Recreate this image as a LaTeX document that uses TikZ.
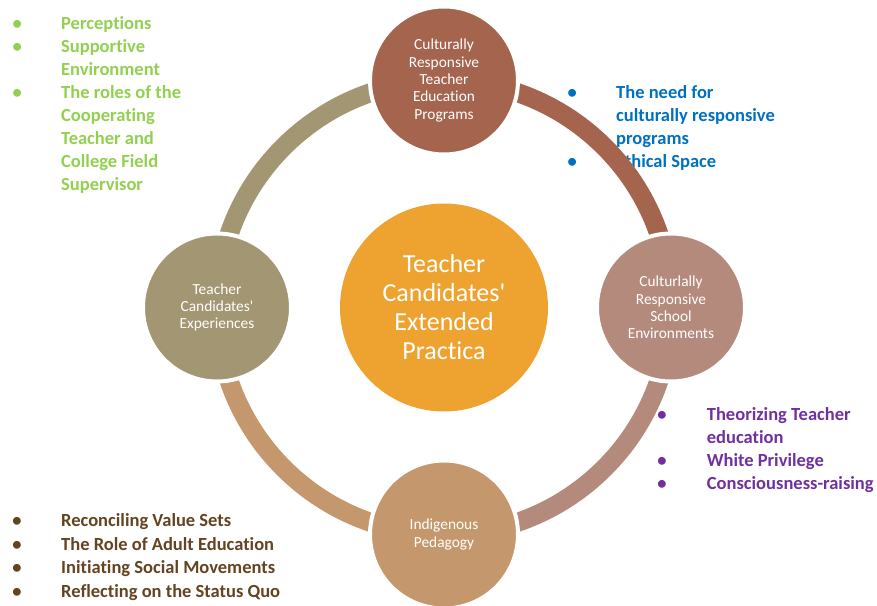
\documentclass[tikz,border=0pt]{standalone}
\usepackage{fontspec}
\setmainfont{Carlito}[Ligatures=NoCommon]

\definecolor{progc}{RGB}{165,100,78}
\definecolor{schoolc}{RGB}{180,138,125}
\definecolor{pedc}{RGB}{196,152,108}
\definecolor{expc}{RGB}{163,150,115}
\definecolor{hubc}{RGB}{238,163,49}
\definecolor{greentxt}{RGB}{146,208,80}
\definecolor{bluetxt}{RGB}{0,112,192}
\definecolor{purpletxt}{RGB}{112,48,160}
\definecolor{browntxt}{RGB}{99,67,32}

\begin{document}
\begin{tikzpicture}[x=1pt,y=1pt,
    ring/.style={line width=19pt},
    spoke/.style={circle,minimum size=148pt,inner sep=0pt,draw=white,line width=4pt,
        text=white,align=center,font=\fontsize{15.4}{17.3}\selectfont},
    hub/.style={circle,minimum size=208pt,inner sep=0pt,fill=hubc,
        text=white,align=center,font=\fontsize{26}{29}\selectfont},
    topics/.style={anchor=north west,inner sep=0pt,align=left}]
    \useasboundingbox (-444,-297.5) rectangle (433,307.5);

    % centres of the four outer circles, ring radius 227
    \coordinate (tp) at (0,227);
    \coordinate (rt) at (227,0);
    \coordinate (bt) at (0,-227);
    \coordinate (lt) at (-227,0);

    % bullet lists
    \node[topics,text=greentxt,font=\bfseries\fontsize{18.5}{23}\selectfont] (exlist) at (-431.6,294.3) {%
        \begin{tabular}{@{}p{48.6pt}@{}l@{}}
        \textbullet & Perceptions\\
        \textbullet & Supportive\\
                    & Environment\\
        \textbullet & The roles of the\\
                    & Cooperating\\
                    & Teacher and\\
                    & College Field\\
                    & Supervisor
        \end{tabular}};
    \node[topics,text=bluetxt,font=\bfseries\fontsize{18.5}{23}\selectfont] (proglist) at (123.4,225.3) {%
        \begin{tabular}{@{}p{48.6pt}@{}l@{}}
        \textbullet & The need for\\
                    & culturally responsive\\
                    & programs\\
        \textbullet & Ethical Space
        \end{tabular}};
    \node[topics,text=purpletxt,font=\bfseries\fontsize{18.5}{23}\selectfont] (schlist) at (213.1,-96.4) {%
        \begin{tabular}{@{}p{49.6pt}@{}l@{}}
        \textbullet & Theorizing Teacher\\
                    & education\\
        \textbullet & White Privilege\\
        \textbullet & Consciousness-raising
        \end{tabular}};
    \node[topics,text=browntxt,font=\bfseries\fontsize{18.5}{23.5}\selectfont] (pedlist) at (-431.9,-202.8) {%
        \begin{tabular}{@{}p{48.9pt}@{}l@{}}
        \textbullet & Reconciling Value Sets\\
        \textbullet & The Role of Adult Education\\
        \textbullet & Initiating Social Movements\\
        \textbullet & Reflecting on the Status Quo
        \end{tabular}};

    % ring segments, clockwise
    \draw[ring,draw=progc] (tp) arc[start angle=90,end angle=0,radius=227];
    \draw[ring,draw=schoolc] (rt) arc[start angle=0,end angle=-90,radius=227];
    \draw[ring,draw=pedc] (bt) arc[start angle=-90,end angle=-180,radius=227];
    \draw[ring,draw=expc] (lt) arc[start angle=180,end angle=90,radius=227];

    % circles
    \node[hub] (practica) at (0,0) {Teacher\\Candidates\textquotesingle\\Extended\\Practica};
    \node[spoke,fill=progc] (prog) at (tp) {Culturally\\Responsive\\Teacher\\Education\\Programs};
    \node[spoke,fill=schoolc] (school) at (rt) {Culturlally\\Responsive\\School\\Environments};
    \node[spoke,fill=pedc] (ped) at (bt) {Indigenous\\Pedagogy};
    \node[spoke,fill=expc] (exp) at (lt) {Teacher\\Candidates\textquotesingle\\Experiences};
\end{tikzpicture}
\end{document}
